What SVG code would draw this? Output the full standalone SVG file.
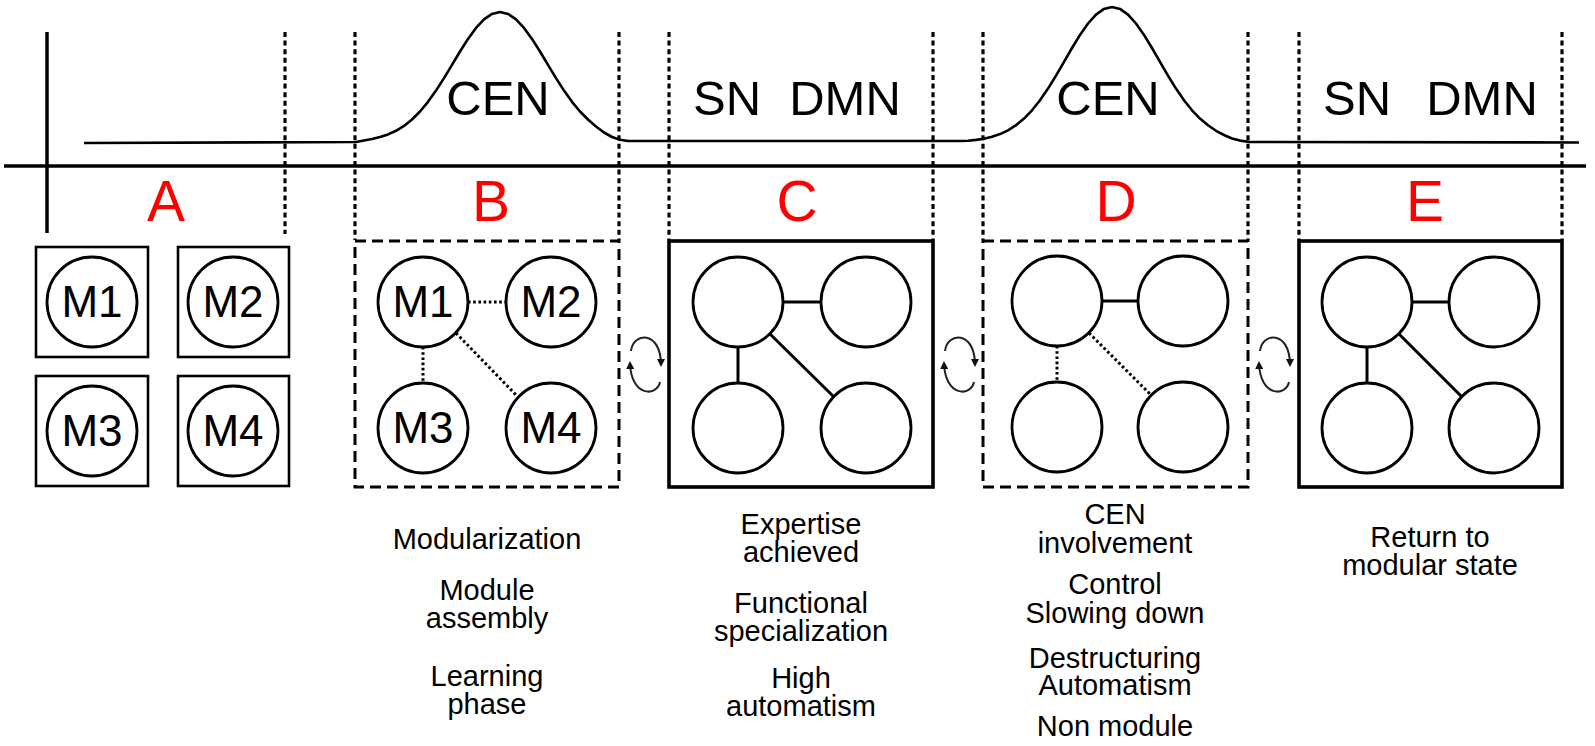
<svg xmlns="http://www.w3.org/2000/svg" xmlns:xlink="http://www.w3.org/1999/xlink" width="1595" height="746" viewBox="0 0 1595 746">
<style>
text{font-family:"Liberation Sans",Arial,sans-serif;fill:#000}
.big{font-size:49px;text-anchor:middle}
.phase{font-size:57px;text-anchor:middle;fill:#ff0000}
.lab{font-size:29px;text-anchor:middle}
.mod{font-size:44px;text-anchor:middle}
.axis{stroke:#000;stroke-width:3.5;fill:none}
.sep{stroke:#000;stroke-width:3.2;stroke-dasharray:5 3.6;fill:none}
.curve{stroke:#000;stroke-width:2.6;fill:none;stroke-linejoin:round}
.sq{stroke:#000;stroke-width:2.6;fill:#fff}
.dbox{stroke:#000;stroke-width:3;stroke-dasharray:11 6;fill:none}
.sbox{stroke:#000;stroke-width:3.6;fill:none}
.c{stroke:#000;stroke-width:2.8;fill:#fff}
.solid{stroke:#000;stroke-width:3;fill:none}
.dot{stroke:#000;stroke-width:3;stroke-dasharray:2.6 2.6;fill:none}
.arc{stroke:#222;stroke-width:2;fill:none;marker-end:url(#ah)}
</style>
<defs>
<marker id="ah" viewBox="0 0 8 8" refX="6" refY="4" markerWidth="8" markerHeight="8" markerUnits="userSpaceOnUse" orient="auto">
<path d="M0,0 L8,4 L0,8 z" fill="#111"/>
</marker>
<g id="swap">
<path class="arc" d="M -15 -13 C -13 -32, 15 -34, 15 1"/>
<path class="arc" d="M 14 18 C 11 33, -15 33, -16 -1"/>
</g>
</defs>

<g id="axes">
<line class="axis" x1="47" y1="32" x2="47" y2="233"/>
<line class="axis" x1="4" y1="166" x2="1586" y2="166"/>
</g>

<g id="separators">
<line class="sep" x1="285" y1="32" x2="285" y2="234"/>
<line class="sep" x1="355" y1="32" x2="355" y2="240"/>
<line class="sep" x1="619" y1="32" x2="619" y2="240"/>
<line class="sep" x1="669" y1="32" x2="669" y2="240"/>
<line class="sep" x1="933" y1="32" x2="933" y2="240"/>
<line class="sep" x1="983" y1="32" x2="983" y2="240"/>
<line class="sep" x1="1248" y1="32" x2="1248" y2="240"/>
<line class="sep" x1="1299" y1="32" x2="1299" y2="240"/>
<line class="sep" x1="1562" y1="32" x2="1562" y2="240"/>
</g>

<g id="activity-curve">
<polyline class="curve" points="84,143 356,142 364,140.5 372,139 380,137 388,134.4 396,130.8 404,125.9 412,119.5 420,111.5 428,101.8 436,90.6 444,78.1 452,64.8 460,51.5 468,38.9 476,27.9 484,19.3 492,13.9 500,12 508,13.9 516,19.3 524,27.9 532,38.9 540,51.5 548,64.8 556,78.1 564,90.6 572,101.8 580,111.5 588,119.5 596,126.5 604,132.5 612,137 620,139.8 628,141 640,141 960,141 968,140.8 976,139.9 984,138.7 992,136.8 1000,134.1 1008,130.3 1016,125.2 1024,118.6 1032,110.3 1040,100.2 1048,88.6 1056,75.6 1064,61.9 1072,48 1080,34.9 1088,23.5 1096,14.6 1104,8.9 1112,7 1120,8.9 1128,14.6 1136,23.5 1144,34.9 1152,48 1160,61.9 1168,75.6 1176,88.6 1184,100.2 1192,110.3 1200,118.6 1208,125.2 1216,130.8 1224,135 1232,138.5 1240,140.6 1250,142 1579,142.5"/>
</g>

<g id="network-labels">
<text class="big" x="498" y="115">CEN</text>
<text class="big" x="727" y="115">SN</text>
<text class="big" x="845" y="115">DMN</text>
<text class="big" x="1108" y="115">CEN</text>
<text class="big" x="1357" y="115">SN</text>
<text class="big" x="1482" y="115">DMN</text>
</g>

<g id="phase-letters">
<text class="phase" x="166" y="221">A</text>
<text class="phase" x="491" y="221">B</text>
<text class="phase" x="797" y="221">C</text>
<text class="phase" x="1116" y="221">D</text>
<text class="phase" x="1425" y="221">E</text>
</g>

<g id="stage-A">
<rect class="sq" x="36" y="247" width="112" height="110"/>
<rect class="sq" x="178" y="247" width="111" height="110"/>
<rect class="sq" x="36" y="376" width="112" height="110"/>
<rect class="sq" x="178" y="376" width="111" height="110"/>
<circle class="c" cx="92" cy="302" r="45"/>
<circle class="c" cx="233" cy="302" r="45"/>
<circle class="c" cx="92" cy="431" r="45"/>
<circle class="c" cx="233" cy="431" r="45"/>
<text class="mod" x="92" y="317">M1</text>
<text class="mod" x="233" y="317">M2</text>
<text class="mod" x="92" y="446">M3</text>
<text class="mod" x="233" y="446">M4</text>
</g>

<g id="connectors">
<line class="dot" x1="468" y1="302" x2="506" y2="302"/>
<line class="dot" x1="423" y1="347" x2="423" y2="383"/>
<line class="dot" x1="456" y1="333" x2="518" y2="397"/>
<line class="solid" x1="783" y1="302" x2="821" y2="302"/>
<line class="solid" x1="738" y1="347" x2="738" y2="383"/>
<line class="solid" x1="770" y1="334" x2="834" y2="397"/>
<line class="solid" x1="1102" y1="301" x2="1138" y2="301"/>
<line class="dot" x1="1057" y1="346" x2="1057" y2="382"/>
<line class="dot" x1="1089" y1="333" x2="1151" y2="395"/>
<line class="solid" x1="1412" y1="302" x2="1449" y2="302"/>
<line class="solid" x1="1367" y1="347" x2="1367" y2="383"/>
<line class="solid" x1="1399" y1="334" x2="1462" y2="397"/>
<use xlink:href="#swap" href="#swap" x="646" y="364"/>
<use xlink:href="#swap" href="#swap" x="960" y="364"/>
<use xlink:href="#swap" href="#swap" x="1275" y="364"/>
</g>

<g id="stage-B">
<rect class="dbox" x="355" y="241" width="264" height="246"/>
<circle class="c" cx="423" cy="302" r="45"/>
<circle class="c" cx="551" cy="302" r="45"/>
<circle class="c" cx="423" cy="428" r="45"/>
<circle class="c" cx="551" cy="428" r="45"/>
<text class="mod" x="423" y="317">M1</text>
<text class="mod" x="551" y="317">M2</text>
<text class="mod" x="423" y="443">M3</text>
<text class="mod" x="551" y="443">M4</text>
<text class="lab" x="487" y="549">Modularization</text>
<text class="lab" x="487" y="600">Module</text>
<text class="lab" x="487" y="628">assembly</text>
<text class="lab" x="487" y="686">Learning</text>
<text class="lab" x="487" y="714">phase</text>
</g>

<g id="stage-C">
<rect class="sbox" x="669" y="241" width="264" height="246"/>
<circle class="c" cx="738" cy="302" r="45"/>
<circle class="c" cx="866" cy="302" r="45"/>
<circle class="c" cx="738" cy="428" r="45"/>
<circle class="c" cx="866" cy="428" r="45"/>
<text class="lab" x="801" y="534">Expertise</text>
<text class="lab" x="801" y="562">achieved</text>
<text class="lab" x="801" y="613">Functional</text>
<text class="lab" x="801" y="641">specialization</text>
<text class="lab" x="801" y="688">High</text>
<text class="lab" x="801" y="716">automatism</text>
</g>

<g id="stage-D">
<rect class="dbox" x="983" y="241" width="265" height="246"/>
<circle class="c" cx="1057" cy="301" r="45"/>
<circle class="c" cx="1183" cy="301" r="45"/>
<circle class="c" cx="1057" cy="427" r="45"/>
<circle class="c" cx="1183" cy="427" r="45"/>
<text class="lab" x="1115" y="524">CEN</text>
<text class="lab" x="1115" y="553">involvement</text>
<text class="lab" x="1115" y="594">Control</text>
<text class="lab" x="1115" y="623">Slowing down</text>
<text class="lab" x="1115" y="668">Destructuring</text>
<text class="lab" x="1115" y="695">Automatism</text>
<text class="lab" x="1115" y="736">Non module</text>
</g>

<g id="stage-E">
<rect class="sbox" x="1299" y="241" width="263" height="246"/>
<circle class="c" cx="1367" cy="302" r="45"/>
<circle class="c" cx="1494" cy="302" r="45"/>
<circle class="c" cx="1367" cy="428" r="45"/>
<circle class="c" cx="1494" cy="428" r="45"/>
<text class="lab" x="1430" y="547">Return to</text>
<text class="lab" x="1430" y="575">modular state</text>
</g>
</svg>
